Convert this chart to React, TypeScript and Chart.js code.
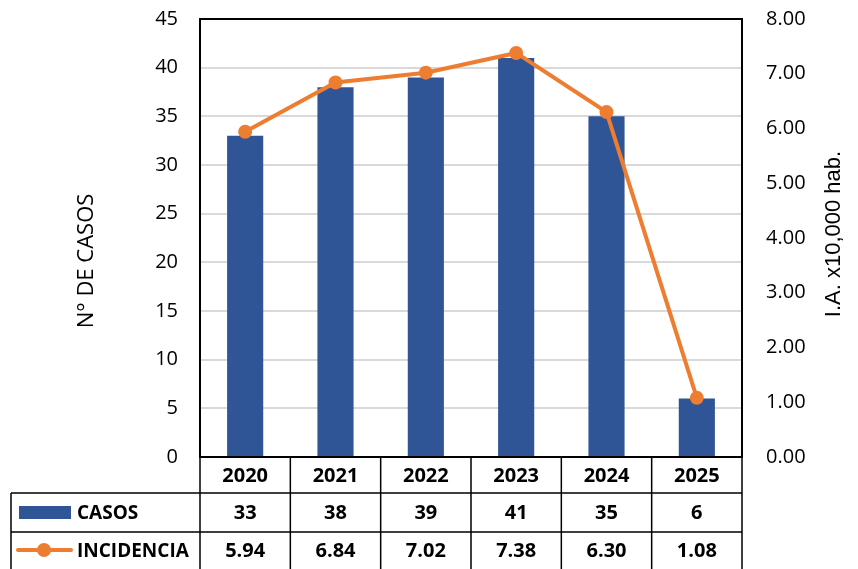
import { useEffect, useRef } from "react";
import { Chart, registerables } from "chart.js";

Chart.register(...registerables);

const years = ["2020", "2021", "2022", "2023", "2024", "2025"];
const casos = [33, 38, 39, 41, 35, 6];
const incidencia = [5.94, 6.84, 7.02, 7.38, 6.3, 1.08];
const casosLabel = "CASOS";
const incidenciaLabel = "INCIDENCIA";
const leftTitle = "N° DE CASOS";
const rightTitle = "I.A. x10,000 hab.";

const BLUE = "#2F5597";
const ORANGE = "#ED7D31";

const tablePlugin = {
  id: "tablePlugin",
  afterDraw(chart: any) {
    const ctx = chart.ctx as CanvasRenderingContext2D;
    const ca = chart.chartArea;
    const xs = chart.scales.x;
    const n = years.length;
    const colW = (ca.right - ca.left) / n;
    const row1 = ca.bottom + 36;
    const row2 = row1 + 39;
    const tableLeft = 11;
    const tableBottom = chart.height + 2;

    ctx.save();
    // plot border
    ctx.strokeStyle = "#000";
    ctx.lineWidth = 2;
    ctx.strokeRect(ca.left, ca.top, ca.right - ca.left, ca.bottom - ca.top);

    // table lines
    ctx.lineWidth = 1.5;
    ctx.beginPath();
    for (let i = 0; i <= n; i++) {
      const x = ca.left + i * colW;
      ctx.moveTo(x, ca.bottom);
      ctx.lineTo(x, tableBottom);
    }
    ctx.moveTo(tableLeft, row1);
    ctx.lineTo(ca.right, row1);
    ctx.moveTo(tableLeft, row2);
    ctx.lineTo(ca.right, row2);
    ctx.moveTo(tableLeft, row1);
    ctx.lineTo(tableLeft, tableBottom);
    ctx.stroke();

    // texts
    ctx.fillStyle = "#000";
    ctx.textAlign = "center";
    ctx.textBaseline = "middle";
    ctx.font = "bold 20px 'Open Sans', sans-serif";
    for (let i = 0; i < n; i++) {
      const cx = xs.getPixelForValue(i);
      ctx.fillText(years[i], cx, (ca.bottom + row1) / 2 + 1);
      ctx.fillText(String(casos[i]), cx, (row1 + row2) / 2 + 1);
      ctx.fillText(incidencia[i].toFixed(2), cx, (row2 + chart.height) / 2 + 1);
    }

    // legend entries
    ctx.textAlign = "left";
    ctx.font = "bold 19px 'Open Sans', sans-serif";
    ctx.fillText(casosLabel, 77, (row1 + row2) / 2 + 1);
    ctx.fillText(incidenciaLabel, 77, (row2 + chart.height) / 2 + 1);
    ctx.fillStyle = BLUE;
    ctx.fillRect(19, (row1 + row2) / 2 - 6.5, 52, 13);
    const ly = (row2 + chart.height) / 2 - 0.5;
    ctx.strokeStyle = ORANGE;
    ctx.lineWidth = 4;
    ctx.lineCap = "round";
    ctx.beginPath();
    ctx.moveTo(18, ly);
    ctx.lineTo(71, ly);
    ctx.stroke();
    ctx.fillStyle = ORANGE;
    ctx.beginPath();
    ctx.arc(44, ly, 7, 0, Math.PI * 2);
    ctx.fill();

    // axis titles
    ctx.fillStyle = "#000";
    ctx.textAlign = "center";
    ctx.textBaseline = "middle";
    ctx.save();
    ctx.translate(87, 261);
    ctx.rotate(-Math.PI / 2);
    ctx.font = "22px 'Open Sans', sans-serif";
    ctx.fillText(leftTitle, 0, 0);
    ctx.restore();
    ctx.save();
    ctx.translate(834, 234);
    ctx.rotate(-Math.PI / 2);
    ctx.font = "22px 'Liberation Sans', Arial, sans-serif";
    ctx.fillText(rightTitle, 0, 0);
    ctx.restore();

    ctx.restore();
  },
};

export default function App() {
  const ref = useRef<HTMLCanvasElement | null>(null);
  useEffect(() => {
    if (!ref.current) return;
    const chart = new Chart(ref.current, {
      type: "bar",
      data: {
        labels: years,
        datasets: [
          {
            type: "line",
            label: incidenciaLabel,
            data: incidencia,
            yAxisID: "y1",
            borderColor: ORANGE,
            backgroundColor: ORANGE,
            borderWidth: 4,
            pointRadius: 7,
            pointBorderWidth: 0,
            pointBackgroundColor: ORANGE,
            tension: 0,
            order: 0,
          } as any,
          {
            type: "bar",
            label: casosLabel,
            data: casos,
            yAxisID: "y",
            backgroundColor: BLUE,
            barPercentage: 0.4,
            categoryPercentage: 1,
            order: 1,
          },
        ],
      },
      options: {
        animation: false,
        responsive: true,
        maintainAspectRatio: false,
        layout: { padding: { left: 0, right: 0, top: 19, bottom: 112 } },
        plugins: { legend: { display: false }, tooltip: { enabled: false } },
        scales: {
          x: { display: false, offset: true },
          y: {
            position: "left",
            min: 0,
            max: 45,
            ticks: {
              stepSize: 5,
              padding: 22,
              color: "#000",
              font: { family: "'Open Sans', sans-serif", size: 20 },
            },
            grid: { color: "#D9D9D9", lineWidth: 2, drawTicks: false },
            border: { display: false },
            afterFit(scale: any) {
              scale.width = 200;
              scale.paddingTop = 0;
              scale.paddingBottom = 0;
            },
          },
          y1: {
            position: "right",
            min: 0,
            max: 8,
            ticks: {
              stepSize: 1,
              padding: 24,
              color: "#000",
              font: { family: "'Open Sans', sans-serif", size: 20 },
              callback: (v: any) => Number(v).toFixed(2),
            },
            grid: { display: false, drawTicks: false },
            border: { display: false },
            afterFit(scale: any) {
              scale.width = 116;
              scale.paddingTop = 0;
              scale.paddingBottom = 0;
            },
          },
        },
      },
      plugins: [tablePlugin],
    });
    return () => chart.destroy();
  }, []);
  return (
    <div style={{ position: "fixed", left: 0, top: 0, width: 858, height: 569, background: "#fff" }}>
      <canvas ref={ref} />
    </div>
  );
}
